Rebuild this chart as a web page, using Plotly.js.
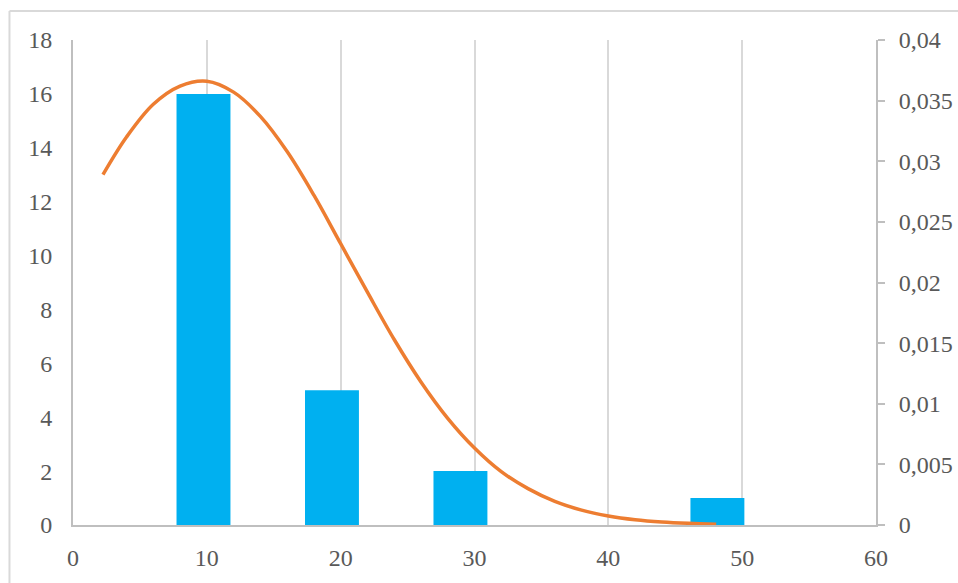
<!DOCTYPE html>
<html>
<head>
<meta charset="utf-8">
<script src="https://cdn.plot.ly/plotly-3.0.1.min.js"></script>
<style>html,body{margin:0;padding:0;background:#fff;}#chart{width:958px;height:583px;}</style>
</head>
<body>
<div id="chart"></div>
<script>
// Histogram bins (centres) and counts
const binCenters = [9.75, 19.35, 28.95, 38.55, 48.15];
const counts = [16, 5, 2, 0, 1];
// Fitted density curve
const curveX = [2.24, 4, 6, 8, 10, 12, 14, 16, 18, 20, 22, 24, 26, 28, 30, 32, 34, 36, 38, 40, 42, 44, 46, 48.06];
const curveY = [0.0289, 0.0320, 0.0347, 0.0362, 0.0366, 0.0357, 0.0337, 0.0308, 0.0272, 0.0232, 0.0192, 0.0153, 0.0118, 0.0088, 0.00635, 0.0044, 0.0030, 0.00195, 0.00123, 0.00075, 0.00044, 0.00025, 0.00014, 0.00007];

const fontSpec = {family: 'Liberation Serif', size: 24, color: '#595959'};

const traces = [
  {type: 'bar', x: binCenters, y: counts, width: 4.03, marker: {color: '#00B0F0'}, yaxis: 'y', hoverinfo: 'x+y'},
  {type: 'scatter', mode: 'lines', x: curveX, y: curveY, yaxis: 'y2', line: {color: '#ED7D31', width: 3.5, shape: 'spline'}}
];

const layout = {
  width: 958, height: 583,
  margin: {l: 73, r: 82, t: 40, b: 58},
  paper_bgcolor: '#fff', plot_bgcolor: '#fff',
  showlegend: false,
  separators: ', ',
  font: fontSpec,
  xaxis: {range: [0, 60], dtick: 10, tick0: 0, showgrid: true, gridcolor: '#d9d9d9', gridwidth: 2,
          showline: true, linecolor: '#bfbfbf', linewidth: 2, ticks: '', zeroline: false,
          tickfont: fontSpec, ticklabelstandoff: 10, fixedrange: true},
  yaxis: {range: [0, 18], dtick: 2, tick0: 0, showgrid: false, showline: true, linecolor: '#bfbfbf', linewidth: 2,
          ticks: '', zeroline: false, tickfont: fontSpec, ticklabelstandoff: 14},
  yaxis2: {range: [0, 0.04], dtick: 0.005, tick0: 0, overlaying: 'y', side: 'right', showgrid: false,
           showline: true, linecolor: '#bfbfbf', linewidth: 2, ticks: 'outside', ticklen: 7, tickcolor: '#bfbfbf', tickwidth: 2,
           zeroline: false, tickfont: fontSpec, ticklabelstandoff: 9},
  shapes: [
    {type: 'line', xref: 'paper', yref: 'paper', x0: -0.0791, x1: -0.0791, y0: 1.0598, y1: -0.14, line: {color: '#d9d9d9', width: 2}},
    {type: 'line', xref: 'paper', yref: 'paper', x0: -0.0791, x1: 1.2, y0: 1.0598, y1: 1.0598, line: {color: '#d9d9d9', width: 2}}
  ]
};

Plotly.newPlot('chart', traces, layout, {displayModeBar: false, staticPlot: true});
</script>
</body>
</html>
